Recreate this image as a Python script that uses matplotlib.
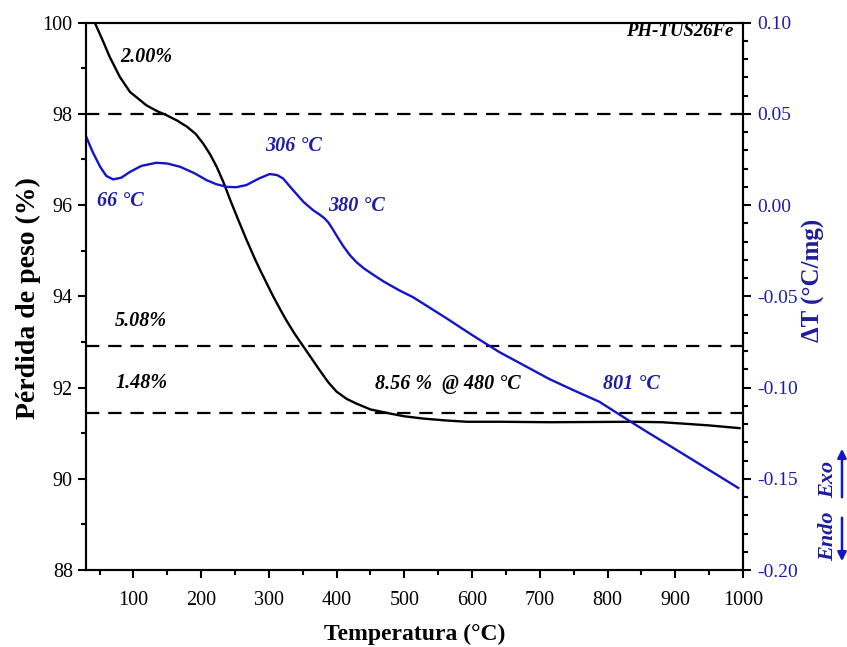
import matplotlib
matplotlib.use("Agg")
import matplotlib.pyplot as plt
from matplotlib.patches import FancyArrowPatch
from matplotlib.ticker import MultipleLocator, FormatStrFormatter

plt.rcParams['font.family'] = ['Liberation Serif', 'DejaVu Serif']

# TG curve (weight %)
tg_temp = [43, 55, 65, 80, 95, 110, 119, 135, 149, 165, 179, 192, 203, 213, 223,
           233, 243, 255, 267, 280, 287, 300, 306, 318, 326, 338, 351, 363, 375,
           388, 400, 415, 429, 450, 479, 500, 528, 560, 592, 641, 715, 838, 880,
           911, 950, 995]
tg_weight = [100.0, 99.6, 99.25, 98.81, 98.48, 98.30, 98.19, 98.06, 97.97, 97.85,
             97.72, 97.56, 97.35, 97.12, 96.84, 96.50, 96.11, 95.67, 95.24, 94.80,
             94.58, 94.19, 94.01, 93.68, 93.47, 93.18, 92.90, 92.64, 92.38, 92.11,
             91.91, 91.75, 91.65, 91.52, 91.43, 91.37, 91.32, 91.28, 91.25, 91.25,
             91.24, 91.25, 91.24, 91.21, 91.17, 91.11]

# DTA curve (deltaT, degC/mg)
dta_temp = [30, 40, 51, 60, 70, 82, 95, 112, 134, 150, 169, 190, 208, 222, 238,
            252, 267, 285, 301, 312, 321, 335, 351, 365, 375, 382, 388, 394, 400,
            410, 420, 430, 440, 455, 470, 493, 513, 560, 600, 640, 680, 715, 750,
            788, 810, 838, 860, 887, 930, 975, 993]
dta_value = [0.0378, 0.029, 0.021, 0.016, 0.0141, 0.015, 0.0182, 0.0215, 0.0232,
             0.0228, 0.021, 0.0175, 0.0137, 0.0115, 0.010, 0.0098, 0.011, 0.0145,
             0.0170, 0.0165, 0.0146, 0.0085, 0.0018, -0.0027, -0.0052, -0.0072,
             -0.0096, -0.0130, -0.0167, -0.0226, -0.0276, -0.0315, -0.0346,
             -0.0384, -0.0420, -0.0468, -0.0505, -0.0615, -0.0712, -0.0805,
             -0.0885, -0.0955, -0.1015, -0.1078, -0.1130, -0.1196, -0.1247,
             -0.1308, -0.1406, -0.1509, -0.155]

# step levels on the TG scale
levels = [98.0, 92.92, 91.44]
step_labels = ["2.00%", "5.08%", "1.48%"]
dta_peaks = ["66 °C", "306 °C", "380 °C", "801 °C"]

blue = '#1414c8'
blue_txt = '#1e1e9e'

fig = plt.figure(figsize=(8.47, 6.47), dpi=100)
ax = fig.add_axes([0.1015, 0.119, 0.7757, 0.846])
ax2 = ax.twinx()

ax.plot(tg_temp, tg_weight, color='black', lw=1.7, zorder=3)
for lv in levels:
    ax.axhline(lv, color='black', lw=1.6, dashes=(6, 4), zorder=2)
ax2.plot(dta_temp, dta_value, color=blue, lw=1.7)

ax.set_xlim(30, 1000)
ax.set_ylim(88, 100)
ax2.set_ylim(-0.20, 0.10)

ax.xaxis.set_major_locator(MultipleLocator(100))
ax.xaxis.set_minor_locator(MultipleLocator(50))
ax.yaxis.set_major_locator(MultipleLocator(2))
ax.yaxis.set_minor_locator(MultipleLocator(1))
ax2.yaxis.set_major_locator(MultipleLocator(0.05))
ax2.yaxis.set_minor_locator(MultipleLocator(0.01))
ax2.yaxis.set_major_formatter(FormatStrFormatter('%.2f'))

for a in (ax, ax2):
    for s in a.spines.values():
        s.set_linewidth(1.5)
ax.tick_params(axis='both', which='major', direction='out', length=6, width=1.5,
               labelsize=14.5, top=False, right=False)
ax.tick_params(axis='x', which='major', pad=9)
ax.tick_params(axis='both', which='minor', direction='out', length=3.5, width=1.5,
               top=False, right=False)
ax2.tick_params(axis='y', which='major', direction='out', length=6, width=1.5,
                labelsize=14, labelcolor=blue_txt, pad=4)
ax2.tick_params(axis='y', which='minor', direction='out', length=3.5, width=1.5)

ax.set_xlabel("Temperatura (°C)", fontsize=17, fontweight='bold')
ax.xaxis.set_label_coords(0.5, -0.098)
ax.set_ylabel("Pérdida de peso (%)", fontsize=20, fontweight='bold')
ax.yaxis.set_label_coords(-0.068, 0.497)
ax2.set_ylabel("ΔT (°C/mg)", fontsize=18, fontweight='bold', color=blue_txt)
ax2.yaxis.set_label_coords(1.09, 0.53)

ann = dict(fontsize=14.5, fontweight='bold', style='italic')
ax.text(80, 99.24, step_labels[0], va='center', **ann)
ax.text(73, 93.45, step_labels[1], va='center', **ann)
ax.text(73, 92.10, step_labels[2], va='center', **ann)
ax.text(456, 92.08, "8.56 %  @ 480 °C", va='center', **ann)
ax.text(0.985, 0.984, "PH-TUS26Fe", transform=ax.transAxes, ha='right', va='center',
        fontsize=13.5, fontweight='bold', style='italic')

ax.text(46, 96.10, dta_peaks[0], va='center', color=blue_txt, **ann)
ax.text(294, 97.29, dta_peaks[1], va='center', color=blue_txt, **ann)
ax.text(387, 95.97, dta_peaks[2], va='center', color=blue_txt, **ann)
ax.text(793, 92.08, dta_peaks[3], va='center', color=blue_txt, **ann)

# Exo / Endo indicator
fig.text(828 / 847, 1 - 479 / 647, "Exo", rotation=90, ha='center', va='center',
         color=blue_txt, fontsize=16, fontweight='bold', style='italic')
fig.text(828 / 847, 1 - 536 / 647, "Endo", rotation=90, ha='center', va='center',
         color=blue_txt, fontsize=16, fontweight='bold', style='italic')
fig.patches.append(FancyArrowPatch(
    (842 / 847, 1 - 500 / 647), (842 / 847, 1 - 446 / 647), transform=fig.transFigure,
    arrowstyle='-|>', mutation_scale=13, color=blue, lw=1.8))
fig.patches.append(FancyArrowPatch(
    (842 / 847, 1 - 515 / 647), (842 / 847, 1 - 564 / 647), transform=fig.transFigure,
    arrowstyle='-|>', mutation_scale=13, color=blue, lw=1.8))

fig.savefig("out.png", dpi=100)
